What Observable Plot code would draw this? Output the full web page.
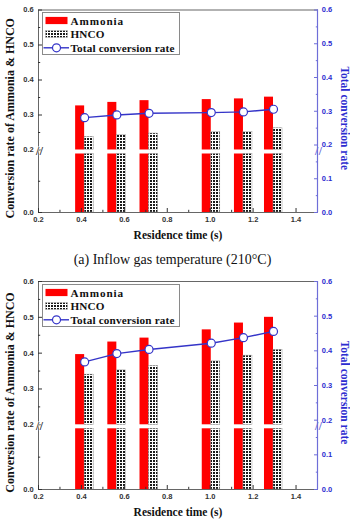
<!DOCTYPE html>
<html><head><meta charset="utf-8">
<script src="https://cdn.jsdelivr.net/npm/d3@7"></script>
<script src="https://cdn.jsdelivr.net/npm/@observablehq/plot@0.6"></script>
<style>
body{margin:0;background:#fff;width:350px;height:529px;overflow:hidden;}
.panel{position:relative;width:350px;}
.panel svg{position:absolute;left:0;top:0;}
.caption{font-family:"Liberation Serif",serif;font-size:14px;text-align:center;height:23px;line-height:23px;padding-right:5px;color:#111;}
</style></head>
<body>
<svg width="0" height="0" style="position:absolute;left:0;top:0">
  <defs>
    <pattern id="grid" width="3" height="3" patternUnits="userSpaceOnUse">
      <rect width="3" height="3" fill="#fff"></rect>
      <rect x="0" y="0" width="2" height="2" fill="#1a1a1a"></rect>
    </pattern>
  </defs>
</svg>
<div id="pa" class="panel"></div>
<div class="caption" id="capA"></div>
<div id="pb" class="panel"></div>
<script>
// ---- data ----
const times = [0.415, 0.565, 0.715, 1.005, 1.155, 1.295];
const ammoniaA = [0.326, 0.336, 0.341, 0.344, 0.346, 0.351];
const hncoA    = [0.237, 0.243, 0.247, 0.251, 0.251, 0.262];
const totalA   = [0.281, 0.289, 0.294, 0.296, 0.298, 0.306];
const ammoniaB = [0.396, 0.431, 0.442, 0.465, 0.484, 0.500];
const hncoB    = [0.340, 0.352, 0.364, 0.377, 0.393, 0.409];
const totalB   = [0.368, 0.392, 0.404, 0.422, 0.438, 0.456];
const xTicks = [0.2, 0.4, 0.6, 0.8, 1.0, 1.2, 1.4];
const xMinor = [0.3, 0.5, 0.7, 0.9, 1.1, 1.3];
const leftTicks = [0.0, 0.2, 0.3, 0.4, 0.5, 0.6];
const leftMinor = [0.1, 0.25, 0.35, 0.45, 0.55];
const rightTicks = [0.0, 0.1, 0.2, 0.3, 0.4, 0.5, 0.6];
const rightMinor = [0.05, 0.15, 0.25, 0.35, 0.45, 0.55];
const legendLabels = ["Ammonia", "HNCO", "Total conversion rate"];
const xLabel = "Residence time (s)";
const leftLabel = "Conversion rate of Ammonia & HNCO";
const rightLabel = "Total conversion rate";
const captionA = "(a) Inflow gas temperature (210°C)";
const xDomain = [0.2, 1.5];
const breakAt = 0.2;
const yMax = 0.6;

// ---- styles ----
const RED = "#ff0000";
const BLUE = "#3434c8";
const BLUE_AX = "#6e6ed8";
const BLUE_TXT = "#2c2cd0";
const DARK = "#333";
const barW = 0.042;
const tickFont = {fontFamily: "Liberation Sans", fontWeight: "bold", fontSize: 7.5};
const titleFont = {fontFamily: "Liberation Serif", fontWeight: "bold"};
const fmt = d3.format(".1f");

document.getElementById("capA").textContent = captionA;

function legend(g) {
  const svg = d3.create("svg").attr("width", 139).attr("height", 44)
    .style("left", "42px").style("top", (g.top + 2.5) + "px");
  svg.append("rect").attr("x", 0.5).attr("y", 0.5).attr("width", 137).attr("height", 42)
    .attr("fill", "#fff").attr("stroke", "#8a8a8a");
  const rowY = [8.5, 22, 35.8];
  svg.append("rect").attr("x", 3.5).attr("y", rowY[0] - 3.6).attr("width", 22).attr("height", 7.2).attr("fill", RED);
  svg.append("rect").attr("x", 3.5).attr("y", rowY[1] - 3.4).attr("width", 22).attr("height", 6.8).attr("fill", "url(#grid)").attr("stroke", "#aaa").attr("stroke-width", 0.4);
  svg.append("line").attr("x1", 1.5).attr("x2", 27).attr("y1", rowY[2]).attr("y2", rowY[2]).attr("stroke", BLUE).attr("stroke-width", 1.4);
  svg.append("circle").attr("cx", 14.5).attr("cy", rowY[2]).attr("r", 4).attr("fill", "#fff").attr("stroke", BLUE).attr("stroke-width", 1.2);
  legendLabels.forEach((t, i) => {
    svg.append("text").attr("x", 28.5).attr("y", rowY[i]).attr("dy", "0.36em")
      .attr("font-family", "Liberation Serif").attr("font-weight", "bold").attr("font-size", 11.2)
      .attr("letter-spacing", i === 0 ? "0.9px" : "0.15px")
      .attr("fill", "#111").text(t);
  });
  return svg.node();
}

function panel(id, data, g) {
  const el = document.getElementById(id);
  el.style.height = g.height + "px";
  // broken left axis: piecewise map of the left values onto the frame's 0..1 height
  const lm = d3.scaleLinear().domain([0, breakAt, yMax]).range([0, (g.bottom - g.breakPx) / (g.bottom - g.top), 1]);
  const rows = times.map((t, i) => ({t, am: data.ammonia[i], hn: data.hnco[i], tot: data.total[i]}));
  const common = {
    width: 350, height: g.height, marginTop: g.top, marginBottom: g.height - g.bottom,
    marginLeft: 38, marginRight: 33,
    style: {background: "transparent", overflow: "visible"}
  };
  const lfmt = v => fmt(lm.invert(v));
  const base = Plot.plot({
    ...common,
    x: {domain: xDomain},
    y: {domain: [0, 1]},
    marks: [
      Plot.rect(rows, {x1: d => d.t - barW, x2: "t", y1: lm(0), y2: lm(breakAt), insetTop: 4, fill: RED}),
      Plot.rect(rows, {x1: d => d.t - barW, x2: "t", y1: lm(breakAt), y2: d => lm(d.am), fill: RED}),
      Plot.rect(rows, {x1: "t", x2: d => d.t + barW, y1: lm(0), y2: lm(breakAt), insetTop: 4, fill: "url(#grid)", stroke: "#999", strokeWidth: 0.5}),
      Plot.rect(rows, {x1: "t", x2: d => d.t + barW, y1: lm(breakAt), y2: d => lm(d.hn), fill: "url(#grid)", stroke: "#999", strokeWidth: 0.5}),
      Plot.frame({stroke: "#666", strokeWidth: 1}),
      Plot.axisY(leftTicks.map(lm), {anchor: "left", tickSize: -4, tickPadding: 8.7, tickFormat: lfmt, stroke: DARK, fill: DARK, label: null, ...tickFont}),
      Plot.axisY(leftMinor.map(lm), {anchor: "left", tickSize: -2.2, tickFormat: () => "", stroke: DARK, label: null}),
      Plot.axisX(xTicks, {anchor: "bottom", tickSize: -4, tickPadding: 8, tickFormat: fmt, stroke: DARK, fill: DARK, label: null, ...tickFont}),
      Plot.axisX(xMinor, {anchor: "bottom", tickSize: -2.2, tickFormat: () => "", stroke: DARK, label: null}),
      Plot.text([breakAt], {y: d => lm(d), frameAnchor: "left", textAnchor: "middle", text: () => "//", dx: 1, dy: 1.5, fontSize: 10, fill: "#333", stroke: "#fff", strokeWidth: 1.2, paintOrder: "stroke"}),
      Plot.text([breakAt], {y: d => lm(d), frameAnchor: "right", textAnchor: "middle", text: () => "//", dx: 1, dy: 1.5, fontSize: 10, fill: BLUE_AX, stroke: "#fff", strokeWidth: 1.2, paintOrder: "stroke"}),
      Plot.text([leftLabel], {frameAnchor: "left", textAnchor: "middle", rotate: -90, dx: -28, dy: 7, fontSize: 12, fill: "#111", ...titleFont}),
      Plot.text([xLabel], {frameAnchor: "bottom", dy: 26, fontSize: 11.5, fill: "#111", ...titleFont})
    ]
  });
  const over = Plot.plot({
    ...common,
    x: {domain: xDomain, axis: null},
    y: {domain: [0, yMax]},
    marks: [
      Plot.ruleX([xDomain[1]], {stroke: BLUE_AX, strokeWidth: 1.2}),
      Plot.axisY(rightTicks, {anchor: "right", tickSize: -4, tickPadding: 8.3, tickFormat: fmt, stroke: BLUE_AX, fill: BLUE_TXT, label: null, ...tickFont}),
      Plot.axisY(rightMinor, {anchor: "right", tickSize: -2.2, tickFormat: () => "", stroke: BLUE_AX, label: null}),
      Plot.line(rows, {x: "t", y: "tot", stroke: BLUE, strokeWidth: 1.4}),
      Plot.dot(rows, {x: "t", y: "tot", r: 4, fill: "#fff", stroke: BLUE, strokeWidth: 1.2}),
      Plot.text([rightLabel], {frameAnchor: "right", textAnchor: "middle", rotate: 90, dx: 27, dy: 7, fontSize: 11.5, fill: BLUE_TXT, ...titleFont})
    ]
  });
  el.append(base, over, legend(g));
}

panel("pa", {ammonia: ammoniaA, hnco: hncoA, total: totalA}, {height: 248, top: 9.5, breakPx: 149.5, bottom: 212});
panel("pb", {ammonia: ammoniaB, hnco: hncoB, total: totalB}, {height: 258, top: 10, breakPx: 153.3, bottom: 218});
</script>
</body></html>
